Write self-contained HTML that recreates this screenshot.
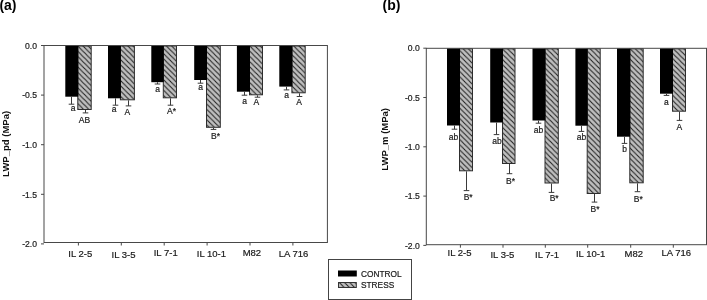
<!DOCTYPE html>
<html><head><meta charset="utf-8"><style>
html,body{margin:0;padding:0;background:#fff;width:707px;height:300px;overflow:hidden}
svg{display:block;font-family:"Liberation Sans",sans-serif;will-change:transform}
</style></head><body>
<svg width="707" height="300" viewBox="0 0 707 300">
<defs><pattern id="ha0" patternUnits="userSpaceOnUse" x="0.35" y="0" width="5.23" height="5.23"><rect width="5.23" height="5.23" fill="#bebebe"/><path d="M-1,-1 L6.23,6.23 M4.23,-1 L6.23,1 M-1,4.23 L1,6.23" stroke="#1e1e1e" stroke-width="1.05" fill="none"/></pattern><pattern id="ha1" patternUnits="userSpaceOnUse" x="3.37" y="0" width="5.23" height="5.23"><rect width="5.23" height="5.23" fill="#bebebe"/><path d="M-1,-1 L6.23,6.23 M4.23,-1 L6.23,1 M-1,4.23 L1,6.23" stroke="#1e1e1e" stroke-width="1.05" fill="none"/></pattern><pattern id="ha2" patternUnits="userSpaceOnUse" x="0.1" y="0" width="5.23" height="5.23"><rect width="5.23" height="5.23" fill="#bebebe"/><path d="M-1,-1 L6.23,6.23 M4.23,-1 L6.23,1 M-1,4.23 L1,6.23" stroke="#1e1e1e" stroke-width="1.05" fill="none"/></pattern><pattern id="ha3" patternUnits="userSpaceOnUse" x="3.3" y="0" width="5.23" height="5.23"><rect width="5.23" height="5.23" fill="#bebebe"/><path d="M-1,-1 L6.23,6.23 M4.23,-1 L6.23,1 M-1,4.23 L1,6.23" stroke="#1e1e1e" stroke-width="1.05" fill="none"/></pattern><pattern id="ha4" patternUnits="userSpaceOnUse" x="5.03" y="0" width="5.23" height="5.23"><rect width="5.23" height="5.23" fill="#bebebe"/><path d="M-1,-1 L6.23,6.23 M4.23,-1 L6.23,1 M-1,4.23 L1,6.23" stroke="#1e1e1e" stroke-width="1.05" fill="none"/></pattern><pattern id="ha5" patternUnits="userSpaceOnUse" x="1.9" y="0" width="5.23" height="5.23"><rect width="5.23" height="5.23" fill="#bebebe"/><path d="M-1,-1 L6.23,6.23 M4.23,-1 L6.23,1 M-1,4.23 L1,6.23" stroke="#1e1e1e" stroke-width="1.05" fill="none"/></pattern><pattern id="hb0" patternUnits="userSpaceOnUse" x="1.2" y="0" width="5.23" height="5.23"><rect width="5.23" height="5.23" fill="#bebebe"/><path d="M-1,-1 L6.23,6.23 M4.23,-1 L6.23,1 M-1,4.23 L1,6.23" stroke="#1e1e1e" stroke-width="1.05" fill="none"/></pattern><pattern id="hb1" patternUnits="userSpaceOnUse" x="3.8" y="0" width="5.23" height="5.23"><rect width="5.23" height="5.23" fill="#bebebe"/><path d="M-1,-1 L6.23,6.23 M4.23,-1 L6.23,1 M-1,4.23 L1,6.23" stroke="#1e1e1e" stroke-width="1.05" fill="none"/></pattern><pattern id="hb2" patternUnits="userSpaceOnUse" x="0.95" y="0" width="5.23" height="5.23"><rect width="5.23" height="5.23" fill="#bebebe"/><path d="M-1,-1 L6.23,6.23 M4.23,-1 L6.23,1 M-1,4.23 L1,6.23" stroke="#1e1e1e" stroke-width="1.05" fill="none"/></pattern><pattern id="hb3" patternUnits="userSpaceOnUse" x="2.7" y="0" width="5.23" height="5.23"><rect width="5.23" height="5.23" fill="#bebebe"/><path d="M-1,-1 L6.23,6.23 M4.23,-1 L6.23,1 M-1,4.23 L1,6.23" stroke="#1e1e1e" stroke-width="1.05" fill="none"/></pattern><pattern id="hb4" patternUnits="userSpaceOnUse" x="0.8" y="0" width="5.23" height="5.23"><rect width="5.23" height="5.23" fill="#bebebe"/><path d="M-1,-1 L6.23,6.23 M4.23,-1 L6.23,1 M-1,4.23 L1,6.23" stroke="#1e1e1e" stroke-width="1.05" fill="none"/></pattern><pattern id="hb5" patternUnits="userSpaceOnUse" x="2.2" y="0" width="5.23" height="5.23"><rect width="5.23" height="5.23" fill="#bebebe"/><path d="M-1,-1 L6.23,6.23 M4.23,-1 L6.23,1 M-1,4.23 L1,6.23" stroke="#1e1e1e" stroke-width="1.05" fill="none"/></pattern><pattern id="hl" patternUnits="userSpaceOnUse" x="4.43" y="0" width="5.23" height="5.23"><rect width="5.23" height="5.23" fill="#bebebe"/><path d="M-1,-1 L6.23,6.23 M4.23,-1 L6.23,1 M-1,4.23 L1,6.23" stroke="#1e1e1e" stroke-width="1.05" fill="none"/></pattern></defs>
<line x1="41" y1="45.5" x2="44" y2="45.5" stroke="#484848" stroke-width="1"/>
<text x="37" y="48.7" font-size="8.6" text-anchor="end" font-weight="normal" fill="#1a1a1a" stroke="#1a1a1a" stroke-width="0.2" >0.0</text>
<line x1="41" y1="95.1" x2="44" y2="95.1" stroke="#484848" stroke-width="1"/>
<text x="37" y="98.3" font-size="8.6" text-anchor="end" font-weight="normal" fill="#1a1a1a" stroke="#1a1a1a" stroke-width="0.2" >-0.5</text>
<line x1="41" y1="144.7" x2="44" y2="144.7" stroke="#484848" stroke-width="1"/>
<text x="37" y="147.89999999999998" font-size="8.6" text-anchor="end" font-weight="normal" fill="#1a1a1a" stroke="#1a1a1a" stroke-width="0.2" >-1.0</text>
<line x1="41" y1="194.3" x2="44" y2="194.3" stroke="#484848" stroke-width="1"/>
<text x="37" y="197.5" font-size="8.6" text-anchor="end" font-weight="normal" fill="#1a1a1a" stroke="#1a1a1a" stroke-width="0.2" >-1.5</text>
<line x1="41" y1="243.9" x2="44" y2="243.9" stroke="#484848" stroke-width="1"/>
<text x="37" y="247.1" font-size="8.6" text-anchor="end" font-weight="normal" fill="#1a1a1a" stroke="#1a1a1a" stroke-width="0.2" >-2.0</text>
<rect x="77.8" y="46.0" width="13.400000000000006" height="63.5" fill="url(#ha0)" stroke="#2e2e2e" stroke-width="1"/>
<rect x="65.3" y="45.5" width="13.0" height="51.2" fill="#000" stroke="none" stroke-width="1"/>
<line x1="71.5" y1="96.7" x2="71.5" y2="104.2" stroke="#3a3a3a" stroke-width="1"/>
<line x1="68.7" y1="104.2" x2="74.3" y2="104.2" stroke="#3a3a3a" stroke-width="1"/>
<line x1="85.5" y1="110" x2="85.5" y2="112.9" stroke="#3a3a3a" stroke-width="1"/>
<line x1="82.7" y1="112.9" x2="88.3" y2="112.9" stroke="#3a3a3a" stroke-width="1"/>
<text x="73.0" y="111.3" font-size="8.5" text-anchor="middle" font-weight="normal" fill="#1a1a1a" stroke="#1a1a1a" stroke-width="0.2" >a</text>
<text x="84.5" y="122.6" font-size="8.5" text-anchor="middle" font-weight="normal" fill="#1a1a1a" stroke="#1a1a1a" stroke-width="0.2" >AB</text>
<line x1="78.4" y1="242.5" x2="78.4" y2="245.5" stroke="#484848" stroke-width="1"/>
<text x="80.3" y="257.4" font-size="9.5" text-anchor="middle" font-weight="normal" fill="#1a1a1a" stroke="#1a1a1a" stroke-width="0.2" >IL 2-5</text>
<rect x="120.4" y="46.0" width="14.0" height="53.8" fill="url(#ha1)" stroke="#2e2e2e" stroke-width="1"/>
<rect x="108" y="45.5" width="12.900000000000006" height="52.8" fill="#000" stroke="none" stroke-width="1"/>
<line x1="115.5" y1="98.3" x2="115.5" y2="105.2" stroke="#3a3a3a" stroke-width="1"/>
<line x1="112.7" y1="105.2" x2="118.3" y2="105.2" stroke="#3a3a3a" stroke-width="1"/>
<line x1="128.5" y1="100.3" x2="128.5" y2="105.9" stroke="#3a3a3a" stroke-width="1"/>
<line x1="125.7" y1="105.9" x2="131.3" y2="105.9" stroke="#3a3a3a" stroke-width="1"/>
<text x="114.0" y="112.3" font-size="8.5" text-anchor="middle" font-weight="normal" fill="#1a1a1a" stroke="#1a1a1a" stroke-width="0.2" >a</text>
<text x="127.4" y="114.6" font-size="8.5" text-anchor="middle" font-weight="normal" fill="#1a1a1a" stroke="#1a1a1a" stroke-width="0.2" >A</text>
<line x1="121.30000000000001" y1="242.5" x2="121.30000000000001" y2="245.5" stroke="#484848" stroke-width="1"/>
<text x="123.5" y="258.3" font-size="9.5" text-anchor="middle" font-weight="normal" fill="#1a1a1a" stroke="#1a1a1a" stroke-width="0.2" >IL 3-5</text>
<rect x="163.3" y="46.0" width="13.199999999999989" height="51.8" fill="url(#ha2)" stroke="#2e2e2e" stroke-width="1"/>
<rect x="151.3" y="45.5" width="12.5" height="36.7" fill="#000" stroke="none" stroke-width="1"/>
<line x1="157.5" y1="82.2" x2="157.5" y2="84.0" stroke="#3a3a3a" stroke-width="1"/>
<line x1="154.7" y1="84.0" x2="160.3" y2="84.0" stroke="#3a3a3a" stroke-width="1"/>
<line x1="170.5" y1="98.3" x2="170.5" y2="105.2" stroke="#3a3a3a" stroke-width="1"/>
<line x1="167.7" y1="105.2" x2="173.3" y2="105.2" stroke="#3a3a3a" stroke-width="1"/>
<text x="157.6" y="91.7" font-size="8.5" text-anchor="middle" font-weight="normal" fill="#1a1a1a" stroke="#1a1a1a" stroke-width="0.2" >a</text>
<text x="171.6" y="113.7" font-size="8.5" text-anchor="middle" font-weight="normal" fill="#1a1a1a" stroke="#1a1a1a" stroke-width="0.2" >A*</text>
<line x1="164.2" y1="242.5" x2="164.2" y2="245.5" stroke="#484848" stroke-width="1"/>
<text x="165.7" y="255.8" font-size="9.5" text-anchor="middle" font-weight="normal" fill="#1a1a1a" stroke="#1a1a1a" stroke-width="0.2" >IL 7-1</text>
<rect x="206.5" y="46.0" width="13.800000000000011" height="81.3" fill="url(#ha3)" stroke="#2e2e2e" stroke-width="1"/>
<rect x="194.2" y="45.5" width="12.800000000000011" height="34.5" fill="#000" stroke="none" stroke-width="1"/>
<line x1="200.5" y1="80" x2="200.5" y2="83.2" stroke="#3a3a3a" stroke-width="1"/>
<line x1="197.7" y1="83.2" x2="203.3" y2="83.2" stroke="#3a3a3a" stroke-width="1"/>
<line x1="213.5" y1="127.8" x2="213.5" y2="129.4" stroke="#3a3a3a" stroke-width="1"/>
<line x1="210.7" y1="129.4" x2="216.3" y2="129.4" stroke="#3a3a3a" stroke-width="1"/>
<text x="200.6" y="89.5" font-size="8.5" text-anchor="middle" font-weight="normal" fill="#1a1a1a" stroke="#1a1a1a" stroke-width="0.2" >a</text>
<text x="215.5" y="139" font-size="8.5" text-anchor="middle" font-weight="normal" fill="#1a1a1a" stroke="#1a1a1a" stroke-width="0.2" >B*</text>
<line x1="207.1" y1="242.5" x2="207.1" y2="245.5" stroke="#484848" stroke-width="1"/>
<text x="211.4" y="257.3" font-size="9.5" text-anchor="middle" font-weight="normal" fill="#1a1a1a" stroke="#1a1a1a" stroke-width="0.2" >IL 10-1</text>
<rect x="249.5" y="46.0" width="13.0" height="48.8" fill="url(#ha4)" stroke="#2e2e2e" stroke-width="1"/>
<rect x="236.9" y="45.5" width="13.099999999999994" height="46.2" fill="#000" stroke="none" stroke-width="1"/>
<line x1="244.5" y1="91.7" x2="244.5" y2="95.2" stroke="#3a3a3a" stroke-width="1"/>
<line x1="241.7" y1="95.2" x2="247.3" y2="95.2" stroke="#3a3a3a" stroke-width="1"/>
<line x1="257.5" y1="95.3" x2="257.5" y2="97.2" stroke="#3a3a3a" stroke-width="1"/>
<line x1="254.7" y1="97.2" x2="260.3" y2="97.2" stroke="#3a3a3a" stroke-width="1"/>
<text x="244.5" y="103.7" font-size="8.5" text-anchor="middle" font-weight="normal" fill="#1a1a1a" stroke="#1a1a1a" stroke-width="0.2" >a</text>
<text x="256.4" y="105.4" font-size="8.5" text-anchor="middle" font-weight="normal" fill="#1a1a1a" stroke="#1a1a1a" stroke-width="0.2" >A</text>
<line x1="250.0" y1="242.5" x2="250.0" y2="245.5" stroke="#484848" stroke-width="1"/>
<text x="251.9" y="256.2" font-size="9.5" text-anchor="middle" font-weight="normal" fill="#1a1a1a" stroke="#1a1a1a" stroke-width="0.2" >M82</text>
<rect x="291.9" y="46.0" width="13.300000000000011" height="46.8" fill="url(#ha5)" stroke="#2e2e2e" stroke-width="1"/>
<rect x="279.3" y="45.5" width="13.099999999999966" height="41.099999999999994" fill="#000" stroke="none" stroke-width="1"/>
<line x1="286.5" y1="86.6" x2="286.5" y2="89.9" stroke="#3a3a3a" stroke-width="1"/>
<line x1="283.7" y1="89.9" x2="289.3" y2="89.9" stroke="#3a3a3a" stroke-width="1"/>
<line x1="299.5" y1="93.3" x2="299.5" y2="96.5" stroke="#3a3a3a" stroke-width="1"/>
<line x1="296.7" y1="96.5" x2="302.3" y2="96.5" stroke="#3a3a3a" stroke-width="1"/>
<text x="286.7" y="98" font-size="8.5" text-anchor="middle" font-weight="normal" fill="#1a1a1a" stroke="#1a1a1a" stroke-width="0.2" >a</text>
<text x="299.2" y="104.6" font-size="8.5" text-anchor="middle" font-weight="normal" fill="#1a1a1a" stroke="#1a1a1a" stroke-width="0.2" >A</text>
<line x1="292.9" y1="242.5" x2="292.9" y2="245.5" stroke="#484848" stroke-width="1"/>
<text x="293.6" y="256.8" font-size="9.5" text-anchor="middle" font-weight="normal" fill="#1a1a1a" stroke="#1a1a1a" stroke-width="0.2" >LA 716</text>
<rect x="44" y="45.5" width="283.4" height="197.0" fill="none" stroke="#484848" stroke-width="1"/>
<text x="9.5" y="143.9" font-size="9.5" text-anchor="middle" font-weight="bold" fill="#111" transform="rotate(-90 9.5 143.9)">LWP_pd (MPa)</text>
<line x1="423.3" y1="48.2" x2="426.3" y2="48.2" stroke="#484848" stroke-width="1"/>
<text x="419.8" y="51.400000000000006" font-size="8.6" text-anchor="end" font-weight="normal" fill="#1a1a1a" stroke="#1a1a1a" stroke-width="0.2" >0.0</text>
<line x1="423.3" y1="97.5" x2="426.3" y2="97.5" stroke="#484848" stroke-width="1"/>
<text x="419.8" y="100.7" font-size="8.6" text-anchor="end" font-weight="normal" fill="#1a1a1a" stroke="#1a1a1a" stroke-width="0.2" >-0.5</text>
<line x1="423.3" y1="146.8" x2="426.3" y2="146.8" stroke="#484848" stroke-width="1"/>
<text x="419.8" y="150.0" font-size="8.6" text-anchor="end" font-weight="normal" fill="#1a1a1a" stroke="#1a1a1a" stroke-width="0.2" >-1.0</text>
<line x1="423.3" y1="196.09999999999997" x2="426.3" y2="196.09999999999997" stroke="#484848" stroke-width="1"/>
<text x="419.8" y="199.29999999999995" font-size="8.6" text-anchor="end" font-weight="normal" fill="#1a1a1a" stroke="#1a1a1a" stroke-width="0.2" >-1.5</text>
<line x1="423.3" y1="245.39999999999998" x2="426.3" y2="245.39999999999998" stroke="#484848" stroke-width="1"/>
<text x="419.8" y="248.59999999999997" font-size="8.6" text-anchor="end" font-weight="normal" fill="#1a1a1a" stroke="#1a1a1a" stroke-width="0.2" >-2.0</text>
<rect x="459.5" y="48.8" width="13.0" height="122.00000000000001" fill="url(#hb0)" stroke="#2e2e2e" stroke-width="1"/>
<rect x="447" y="48.3" width="13" height="77.2" fill="#000" stroke="none" stroke-width="1"/>
<line x1="454.5" y1="125.5" x2="454.5" y2="129.2" stroke="#3a3a3a" stroke-width="1"/>
<line x1="451.7" y1="129.2" x2="457.3" y2="129.2" stroke="#3a3a3a" stroke-width="1"/>
<line x1="466.5" y1="171.3" x2="466.5" y2="190.6" stroke="#3a3a3a" stroke-width="1"/>
<line x1="463.7" y1="190.6" x2="469.3" y2="190.6" stroke="#3a3a3a" stroke-width="1"/>
<text x="453.4" y="139.5" font-size="8.5" text-anchor="middle" font-weight="normal" fill="#1a1a1a" stroke="#1a1a1a" stroke-width="0.2" >ab</text>
<text x="468.2" y="200" font-size="8.5" text-anchor="middle" font-weight="normal" fill="#1a1a1a" stroke="#1a1a1a" stroke-width="0.2" >B*</text>
<line x1="460.4" y1="244.7" x2="460.4" y2="247.7" stroke="#484848" stroke-width="1"/>
<text x="459.6" y="255.8" font-size="9.5" text-anchor="middle" font-weight="normal" fill="#1a1a1a" stroke="#1a1a1a" stroke-width="0.2" >IL 2-5</text>
<rect x="502.5" y="48.8" width="12.5" height="114.7" fill="url(#hb1)" stroke="#2e2e2e" stroke-width="1"/>
<rect x="490.2" y="48.3" width="12.800000000000011" height="74.2" fill="#000" stroke="none" stroke-width="1"/>
<line x1="496.5" y1="122.5" x2="496.5" y2="134.6" stroke="#3a3a3a" stroke-width="1"/>
<line x1="493.7" y1="134.6" x2="499.3" y2="134.6" stroke="#3a3a3a" stroke-width="1"/>
<line x1="509.5" y1="164" x2="509.5" y2="173.7" stroke="#3a3a3a" stroke-width="1"/>
<line x1="506.7" y1="173.7" x2="512.3" y2="173.7" stroke="#3a3a3a" stroke-width="1"/>
<text x="497" y="143.6" font-size="8.5" text-anchor="middle" font-weight="normal" fill="#1a1a1a" stroke="#1a1a1a" stroke-width="0.2" >ab</text>
<text x="510.6" y="183.6" font-size="8.5" text-anchor="middle" font-weight="normal" fill="#1a1a1a" stroke="#1a1a1a" stroke-width="0.2" >B*</text>
<line x1="503" y1="244.7" x2="503" y2="247.7" stroke="#484848" stroke-width="1"/>
<text x="502.4" y="257.8" font-size="9.5" text-anchor="middle" font-weight="normal" fill="#1a1a1a" stroke="#1a1a1a" stroke-width="0.2" >IL 3-5</text>
<rect x="545.0" y="48.8" width="13.299999999999955" height="134.2" fill="url(#hb2)" stroke="#2e2e2e" stroke-width="1"/>
<rect x="532.5" y="48.3" width="13.0" height="72.2" fill="#000" stroke="none" stroke-width="1"/>
<line x1="538.5" y1="120.5" x2="538.5" y2="123.2" stroke="#3a3a3a" stroke-width="1"/>
<line x1="535.7" y1="123.2" x2="541.3" y2="123.2" stroke="#3a3a3a" stroke-width="1"/>
<line x1="551.5" y1="183.5" x2="551.5" y2="192.4" stroke="#3a3a3a" stroke-width="1"/>
<line x1="548.7" y1="192.4" x2="554.3" y2="192.4" stroke="#3a3a3a" stroke-width="1"/>
<text x="538.5" y="132.5" font-size="8.5" text-anchor="middle" font-weight="normal" fill="#1a1a1a" stroke="#1a1a1a" stroke-width="0.2" >ab</text>
<text x="554.2" y="200.8" font-size="8.5" text-anchor="middle" font-weight="normal" fill="#1a1a1a" stroke="#1a1a1a" stroke-width="0.2" >B*</text>
<line x1="545.3" y1="244.7" x2="545.3" y2="247.7" stroke="#484848" stroke-width="1"/>
<text x="547.0" y="258.3" font-size="9.5" text-anchor="middle" font-weight="normal" fill="#1a1a1a" stroke="#1a1a1a" stroke-width="0.2" >IL 7-1</text>
<rect x="587.2" y="48.8" width="13.0" height="144.7" fill="url(#hb3)" stroke="#2e2e2e" stroke-width="1"/>
<rect x="575.4" y="48.3" width="12.300000000000068" height="77.4" fill="#000" stroke="none" stroke-width="1"/>
<line x1="581.5" y1="125.7" x2="581.5" y2="131.4" stroke="#3a3a3a" stroke-width="1"/>
<line x1="578.7" y1="131.4" x2="584.3" y2="131.4" stroke="#3a3a3a" stroke-width="1"/>
<line x1="594.5" y1="194" x2="594.5" y2="202.1" stroke="#3a3a3a" stroke-width="1"/>
<line x1="591.7" y1="202.1" x2="597.3" y2="202.1" stroke="#3a3a3a" stroke-width="1"/>
<text x="581.5" y="140.4" font-size="8.5" text-anchor="middle" font-weight="normal" fill="#1a1a1a" stroke="#1a1a1a" stroke-width="0.2" >ab</text>
<text x="595" y="212" font-size="8.5" text-anchor="middle" font-weight="normal" fill="#1a1a1a" stroke="#1a1a1a" stroke-width="0.2" >B*</text>
<line x1="587.7" y1="244.7" x2="587.7" y2="247.7" stroke="#484848" stroke-width="1"/>
<text x="590.6" y="256.8" font-size="9.5" text-anchor="middle" font-weight="normal" fill="#1a1a1a" stroke="#1a1a1a" stroke-width="0.2" >IL 10-1</text>
<rect x="629.8" y="48.8" width="13.400000000000091" height="134.0" fill="url(#hb4)" stroke="#2e2e2e" stroke-width="1"/>
<rect x="617" y="48.3" width="13.299999999999955" height="88.39999999999999" fill="#000" stroke="none" stroke-width="1"/>
<line x1="624.5" y1="136.7" x2="624.5" y2="143.4" stroke="#3a3a3a" stroke-width="1"/>
<line x1="621.7" y1="143.4" x2="627.3" y2="143.4" stroke="#3a3a3a" stroke-width="1"/>
<line x1="637.5" y1="183.3" x2="637.5" y2="191.7" stroke="#3a3a3a" stroke-width="1"/>
<line x1="634.7" y1="191.7" x2="640.3" y2="191.7" stroke="#3a3a3a" stroke-width="1"/>
<text x="624.7" y="152" font-size="8.5" text-anchor="middle" font-weight="normal" fill="#1a1a1a" stroke="#1a1a1a" stroke-width="0.2" >b</text>
<text x="638.3" y="202.3" font-size="8.5" text-anchor="middle" font-weight="normal" fill="#1a1a1a" stroke="#1a1a1a" stroke-width="0.2" >B*</text>
<line x1="630.7" y1="244.7" x2="630.7" y2="247.7" stroke="#484848" stroke-width="1"/>
<text x="633.8" y="256.6" font-size="9.5" text-anchor="middle" font-weight="normal" fill="#1a1a1a" stroke="#1a1a1a" stroke-width="0.2" >M82</text>
<rect x="672.5" y="48.8" width="13.0" height="62.400000000000006" fill="url(#hb5)" stroke="#2e2e2e" stroke-width="1"/>
<rect x="660" y="48.3" width="13" height="45.400000000000006" fill="#000" stroke="none" stroke-width="1"/>
<line x1="666.5" y1="93.7" x2="666.5" y2="95.4" stroke="#3a3a3a" stroke-width="1"/>
<line x1="663.7" y1="95.4" x2="669.3" y2="95.4" stroke="#3a3a3a" stroke-width="1"/>
<line x1="679.5" y1="111.7" x2="679.5" y2="120.4" stroke="#3a3a3a" stroke-width="1"/>
<line x1="676.7" y1="120.4" x2="682.3" y2="120.4" stroke="#3a3a3a" stroke-width="1"/>
<text x="666.3" y="104.7" font-size="8.5" text-anchor="middle" font-weight="normal" fill="#1a1a1a" stroke="#1a1a1a" stroke-width="0.2" >a</text>
<text x="679.3" y="129.7" font-size="8.5" text-anchor="middle" font-weight="normal" fill="#1a1a1a" stroke="#1a1a1a" stroke-width="0.2" >A</text>
<line x1="673.3" y1="244.7" x2="673.3" y2="247.7" stroke="#484848" stroke-width="1"/>
<text x="676.2" y="256.3" font-size="9.5" text-anchor="middle" font-weight="normal" fill="#1a1a1a" stroke="#1a1a1a" stroke-width="0.2" >LA 716</text>
<rect x="426.3" y="48.3" width="280.2" height="196.39999999999998" fill="none" stroke="#484848" stroke-width="1"/>
<text x="388" y="139.4" font-size="9.5" text-anchor="middle" font-weight="bold" fill="#111" transform="rotate(-90 388 139.4)">LWP_m (MPa)</text>
<text x="-0.6" y="10.2" font-size="14" text-anchor="start" font-weight="bold" fill="#000" >(a)</text>
<text x="382.6" y="10.2" font-size="14" text-anchor="start" font-weight="bold" fill="#000" >(b)</text>
<rect x="328.5" y="259.5" width="83" height="40" fill="#fff" stroke="#444" stroke-width="1"/>
<rect x="338" y="270.5" width="18.80000000000001" height="6.0" fill="#000" stroke="none" stroke-width="1"/>
<rect x="338.5" y="282.5" width="17.80000000000001" height="5.0" fill="url(#hl)" stroke="#333" stroke-width="1"/>
<text x="361" y="276.8" font-size="8.3" text-anchor="start" font-weight="normal" fill="#1a1a1a" stroke="#1a1a1a" stroke-width="0.2" >CONTROL</text>
<text x="361" y="288.2" font-size="8.3" text-anchor="start" font-weight="normal" fill="#1a1a1a" stroke="#1a1a1a" stroke-width="0.2" >STRESS</text>
</svg>
</body></html>
